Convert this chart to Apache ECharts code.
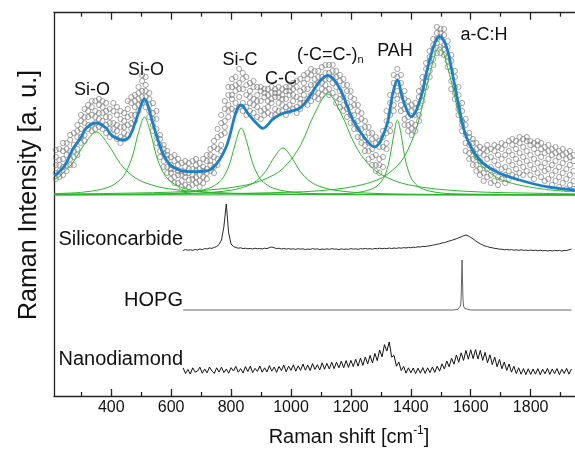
<!DOCTYPE html>
<html><head><meta charset="utf-8">
<script src="https://cdn.jsdelivr.net/npm/echarts@6/dist/echarts.min.js"></script>
<style>html,body{margin:0;padding:0;background:#fff}#c{width:575px;height:471px}</style>
</head><body><div id="c"></div>
<script>
// ---------- axis ----------
const X_MIN = 209, X_MAX = 1948;               // Raman shift range (cm-1)
const MAJOR_TICKS = [400, 600, 800, 1000, 1200, 1400, 1600, 1800];
const MINOR_TICKS = [300, 500, 700, 900, 1100, 1300, 1500, 1700, 1900];
const Y_MAX = 383.3;                            // arbitrary units

// vertical offsets of the stacked spectra (a.u.)
const FIT_OFFSET = 201, SIC_OFFSET = 145, HOPG_OFFSET = 86, ND_OFFSET = 23;

// ---------- fitted sample: measured points [x, y1..y5] ----------
const SCATTER_ROWS = [
[215,22,38,16,30,45],[227,35,24,46,18,30],[239,28,44,20,36,52],[251,40,30,52,24,46],[263,36,55,44,30,60],[275,50,38,62,44,30],
[287,58,46,70,40,64],[299,66,52,80,74,58],[311,72,60,86,54,78],[323,78,66,90,84,70],[335,70,88,80,64,94],[347,84,72,94,66,78],
[359,76,90,68,96,82],[371,88,74,82,66,94],[383,70,84,92,62,78],[395,78,66,86,58,72],[407,72,60,84,92,66],[419,64,80,70,56,88],
[431,76,58,68,84,52],[443,62,74,82,56,68],[455,70,86,60,78,94],[467,80,92,72,66,98],[479,88,100,80,74,94],[491,96,84,108,102,90],
[503,104,92,114,120,98],[515,98,110,88,118,104],[527,90,78,102,96,84],[539,82,70,92,64,76],[551,66,58,76,84,52],[563,50,44,60,38,56],
[575,42,34,50,28,46],[587,36,28,44,22,40],[599,30,22,38,16,26],[611,26,18,34,12,40],[623,20,30,12,36,24],[635,24,14,32,8,20],
[647,18,28,10,34,22],[659,22,32,15,8,26],[671,16,26,34,10,20],[683,24,12,30,36,18],[695,20,32,14,26,8],[707,28,18,36,12,24],
[719,22,34,26,16,40],[731,30,40,24,46,34],[743,38,28,48,54,22],[755,46,36,58,30,66],[767,60,50,72,44,80],[779,74,62,86,94,68],
[791,90,78,100,108,84],[803,96,108,86,116,100],[815,104,92,118,84,110],[827,98,112,126,88,106],[839,106,92,116,84,122],[851,100,88,110,80,118],
[863,92,104,84,112,98],[875,96,82,108,114,90],[887,88,100,78,108,94],[899,94,104,84,76,108],[911,86,98,106,80,102],[923,100,88,106,94,82],
[935,92,102,80,108,96],[947,98,86,106,80,102],[959,102,92,108,84,98],[971,90,100,84,106,96],[983,96,104,88,80,108],[995,100,90,108,84,104],
[1007,94,106,86,112,100],[1019,98,88,108,82,114],[1031,92,104,96,116,86],[1043,100,112,92,120,106],[1055,106,96,116,90,122],[1067,110,100,120,94,126],
[1079,104,116,98,124,110],[1091,112,102,124,96,118],[1103,118,106,128,100,112],[1115,110,122,104,130,116],[1127,116,106,130,100,122],[1139,112,124,102,130,118],
[1151,108,118,98,124,92],[1163,104,96,114,88,120],[1175,98,110,90,116,84],[1187,92,104,86,110,78],[1199,88,98,80,104,72],[1211,80,90,72,96,66],
[1223,74,84,66,90,58],[1235,66,76,58,82,52],[1247,58,68,50,74,44],[1259,52,62,44,68,36],[1271,46,56,38,62,30],[1283,40,52,30,58,24],
[1295,36,48,22,54,30],[1307,48,38,58,28,64],[1319,62,52,74,84,46],[1331,80,92,70,100,64],[1343,100,112,90,120,84],[1355,118,104,126,96,112],
[1367,100,112,90,84,120],[1379,86,96,76,104,70],[1391,78,88,70,94,64],[1403,72,84,66,90,60],[1415,80,70,92,64,86],[1427,88,98,80,104,74],
[1439,100,112,94,118,106],[1451,118,126,108,132,114],[1463,134,124,144,118,138],[1475,146,136,156,130,150],[1487,152,162,142,168,156],[1499,158,148,166,142,162],
[1511,150,160,140,166,146],[1523,138,148,128,154,134],[1535,124,134,114,140,106],[1547,108,118,96,124,102],[1559,90,100,80,108,86],[1571,74,84,64,92,70],
[1583,60,70,52,76,44],[1595,50,42,58,36,62],[1607,44,36,52,30,56],[1619,38,46,30,52,24],[1631,34,42,26,48,20],[1643,30,40,22,46,14],
[1655,36,26,44,18,50],[1667,28,38,20,46,12],[1679,34,24,44,14,50],[1691,30,40,18,48,10],[1703,36,26,46,16,52],[1715,28,40,20,50,12],
[1727,34,44,24,54,16],[1739,40,30,50,20,56],[1751,36,46,26,54,18],[1763,42,32,52,22,58],[1775,38,48,28,56,20],[1787,44,34,54,24,58],
[1799,40,30,50,20,54],[1811,36,46,26,52,16],[1823,42,32,50,22,54],[1835,38,28,46,18,52],[1847,32,42,24,48,14],[1859,36,26,44,16,50],
[1871,30,40,20,46,10],[1883,34,24,42,14,48],[1895,28,38,18,44,8],[1907,32,22,40,12,46],[1919,26,36,16,42,6],[1931,30,20,38,10,44],
[1943,24,34,14,40,6]
];

// cumulative fit (blue)
const FIT_X = [210.7,244,272,300,316,350,383,400,439,460,483,500,511,522,533,556,578,606,661,700,739,784,817,834,856,884,906,940,974,1029,1062,1095,1123,1162,1207,1251,1279,1318,1340,1355,1374,1402,1431,1457,1480,1496,1519,1541,1563,1585,1630,1686,1763,1852,1948];
const FIT_Y = [19.3,29,46,58,66.7,72,67,60,55,58,75,90,96,90,78,55,38,28,23.3,23.5,27,48.3,83.3,90,81.7,72,66.7,76,81.7,86.7,98.3,113.3,119.5,107,75,55,48,68.3,101.7,115,95,78.3,95,128.3,151.7,158.3,148.3,118.3,85,58.3,35,23.3,15,8.3,5];

// fit components (green)
const SIO1_X = [210,230,270,310,350,390,430,470,510,590,750,990,1948];
const SIO1_Y = [15.5,19.4,31.5,50.4,63,50.4,31.5,19.4,12.6,6.3,2.4,1.0,0.2];
const SIO2_X = [210,311,391,431,451,471,491,511,531,551,571,591,631,711,831,1100,1948];
const SIO2_Y = [1.4,3.0,7.8,15.6,24,39,62.4,78,62.4,39,24,15.6,7.8,3.0,1.2,0.36,0.05];
const SIC_X = [210,546,654,726,762,780,798,816,834,852,870,888,906,942,1014,1122,1500,1948];
const SIC_Y = [0.2,1.0,2.6,6.7,13.4,20.6,33.5,53.6,67,53.6,33.5,20.6,13.4,6.7,2.6,1.0,0.2,0.1];
const CC_X = [210,509,683,799,857,886,915,944,973,1002,1031,1060,1089,1147,1263,1437,1948];
const CC_Y = [0.27,0.72,1.8,4.7,9.4,14.5,23.5,37.6,47,37.6,23.5,14.5,9.4,4.7,1.8,0.72,0.17];
const CEC_X = [210,403,673,853,943,988,1033,1078,1123,1168,1213,1258,1303,1393,1573,1843,1948];
const CEC_Y = [1.0,1.6,3.9,10.1,20.2,31.1,50.5,80.8,101,80.8,50.5,31.1,20.2,10.1,3.9,1.6,1.2];
const PAH_X = [210,800,1155,1230,1280,1305,1318,1330,1343,1355,1368,1380,1393,1405,1430,1480,1555,1948];
const PAH_Y = [0.04,0.15,1.15,2.9,7.5,15,23.1,37.5,60,75,60,37.5,23.1,15,7.5,2.9,1.15,0.13];
const ACH_X = [210,600,936,1146,1286,1356,1391,1426,1461,1496,1531,1566,1601,1636,1706,1846,1948];
const ACH_Y = [0.44,0.9,2.3,5.7,14.8,29.6,45.6,74,118.4,148,118.4,74,45.6,29.6,14.8,5.7,3.5];

// reference spectra
const SPEC_X = [640,648,656,664,672,680,688,696,704,712,720,728,736,744,752,760,768,776,784,792,800,808,816,824,832,840,848,856,864,872,880,888,896,904,912,920,928,936,944,952,960,968,976,984,992,1000,1008,1016,1024,1032,1040,1048,1056,1064,1072,1080,1088,1096,1104,1112,1120,1128,1136,1144,1152,1160,1168,1176,1184,1192,1200,1208,1216,1224,1232,1240,1248,1256,1264,1272,1280,1288,1296,1304,1312,1320,1328,1336,1344,1352,1360,1368,1376,1384,1392,1400,1408,1416,1424,1432,1440,1448,1456,1464,1472,1480,1488,1496,1504,1512,1520,1528,1536,1544,1552,1560,1568,1576,1584,1592,1600,1608,1616,1624,1632,1640,1648,1656,1664,1672,1680,1688,1696,1704,1712,1720,1728,1736,1744,1752,1760,1768,1776,1784,1792,1800,1808,1816,1824,1832,1840,1848,1856,1864,1872,1880,1888,1896,1904,1912,1920,1928,1936];
const SICARB_Y = [0.5,1.5,0.8,1.2,0.6,1.6,1.0,2.0,1.4,2.4, 2.0,3.0,2.6,3.6,4.5,6.5,11,24,47,18, 7,4.5,3.5,2.8,3.2,2.4,2.8,2.2,2.6,2.0,
 2.8,2.2,2.6,2.0,2.8,2.4,3.4,4.0,3.2,2.4, 2.8,2.0,2.6,1.8,2.4,1.8,2.2,1.6,2.4,1.8, 2.2,1.4,2.0,1.6,2.4,1.8,2.2,1.4,2.0,1.6,
 2.2,1.6,2.4,1.8,2.0,1.4,2.2,1.6,2.0,1.6, 2.4,1.8,2.2,1.6,2.4,2.0,2.6,2.0,2.4,1.8, 2.6,2.2,2.8,2.2,2.6,2.4,3.0,2.4,3.0,2.6,
 3.2,2.8,3.4,3.0,3.6,3.2,3.8,3.6,4.2,4.0, 4.6,4.4,5.0,5.2,5.8,6.2,6.8,7.2,8.0,8.4, 9.2,10,10.6,11.4,12.2,13.2,14.2,15.2,16,15,
 13.6,12,10.2,8.6,7.2,6.0,5.0,4.4,3.6,3.2, 2.6,2.4,1.8,1.8,1.2,1.6,1.0,1.4,0.8,1.2, 0.6,1.2,0.6,1.0,0.4,1.0,0.4,0.8,0.2,0.8,
 0.2,0.6,0.0,0.6,0.0,0.6,0.2,0.6,0.0,0.6, 0.4,1.2,2.0];
const ND_Y = [5.0,-0.5,3.5,-1.0,5.2,0.8,2.0,5.8,-0.2,4.0, 0.2,6.0,2.0,-0.4,5.2,1.0,5.8,0.4,4.0,-0.2, 5.4,2.0,6.6,0.8,4.4,0.0,6.4,1.4,6.8,0.4,
 4.6,1.6,7.0,0.8,5.2,1.0,7.4,1.8,6.0,0.6, 6.6,2.4,8.0,1.2,6.8,2.6,8.2,1.8,7.2,2.6, 9.0,2.8,7.8,2.4,9.4,3.6,8.2,3.0,10.2,3.8,
 9.6,4.0,10.8,4.4,10.8,5.2,11.8,5.4,12.4,5.6, 12.6,6.4,13.8,6.8,15.0,7.6,16.0,9.0,17.6,10.0, 19.6,12.4,23.0,16.2,28.4,22.0,31.0,16.0,17.6,6.8,
 11.0,2.4,6.6,-0.2,5.2,0.2,5.0,-0.6,4.8,-0.2, 5.4,-0.4,5.2,0.4,6.0,0.6,6.8,1.8,9.2,4.0, 12.0,6.2,14.8,8.8,18.0,10.8,20.2,12.6,22.6,13.8,
 23.2,14.4,23.4,14.0,22.6,12.6,20.6,10.2,18.2,8.4, 16.0,6.2,13.6,4.2,11.0,2.6,9.0,0.8,6.8,-0.6, 5.2,-1.2,4.4,-1.6,4.2,-1.4,4.0,-1.2,4.4,-1.8,
 3.8,-0.8,4.6,-1.4,4.0,-0.6,4.4,-1.6,3.8,-0.4, 4.6,-1.2,4.0];
const HOPG_X = [640,1540,1556,1562,1566,1568,1570,1571,1572,1574,1576,1580,1586,1600,1936];
const HOPG_Y = [0,0,0.5,1.5,4,12,38,50,38,12,4,1.5,0.5,0,0];

// ---------- build ----------
const FONT = '"Liberation Sans", Arial, Helvetica, sans-serif';
const pairs = (xs, ys, off) => xs.map((x, i) => [x, ys[i] + off]);
const scatterData = [];
SCATTER_ROWS.forEach(r => { for (let k = 1; k < r.length; k++) scatterData.push([r[0], r[k] + FIT_OFFSET]); });

const GREEN = '#2cb52c';
const comps = [[SIO1_X,SIO1_Y],[SIO2_X,SIO2_Y],[SIC_X,SIC_Y],[CC_X,CC_Y],[CEC_X,CEC_Y],[PAH_X,PAH_Y],[ACH_X,ACH_Y]];
const series = [];
series.push({type:'scatter', xAxisIndex:0, yAxisIndex:0, data:scatterData, symbol:'circle', symbolSize:5.2,
  itemStyle:{color:'rgba(0,0,0,0)', borderColor:'#6a6a6a', borderWidth:0.75}, silent:true, z:2});
comps.forEach(c => series.push({type:'line', xAxisIndex:0, yAxisIndex:0, data:pairs(c[0], c[1], FIT_OFFSET),
  showSymbol:false, smooth:0.35, lineStyle:{color:GREEN, width:1}, silent:true, z:3}));
series.push({type:'line', xAxisIndex:0, yAxisIndex:0, data:pairs(FIT_X, FIT_Y, FIT_OFFSET), showSymbol:false,
  smooth:0.35, lineStyle:{color:'#1c80c9', width:2.8}, silent:true, z:4});
series.push({type:'line', xAxisIndex:0, yAxisIndex:0, data:pairs(SPEC_X, SICARB_Y, SIC_OFFSET), showSymbol:false,
  lineStyle:{color:'#111', width:0.9}, silent:true, z:3});
series.push({type:'line', xAxisIndex:0, yAxisIndex:0, data:pairs(HOPG_X, HOPG_Y, HOPG_OFFSET), showSymbol:false,
  lineStyle:{color:'#555', width:0.9}, silent:true, z:3});
series.push({type:'line', xAxisIndex:0, yAxisIndex:0, data:pairs(SPEC_X, ND_Y, ND_OFFSET), showSymbol:false,
  lineStyle:{color:'#111', width:1}, silent:true, z:3});

const AX = {color:'#222', width:1.3};
const baseX = {type:'value', min:X_MIN, max:X_MAX, splitLine:{show:false}};
const gridBox = {left:54, right:0, top:12.7, bottom:75, containLabel:false};

const txt = (text, x, y, size, align) => ({type:'text', x, y, silent:true,
  style:{text, fontSize:size, fontFamily:FONT, fill:'#111', align:align||'center', verticalAlign:'middle'}});

const option = {
  animation:false,
  backgroundColor:'#fff',
  grid:[Object.assign({}, gridBox), Object.assign({}, gridBox)],
  xAxis:[
    Object.assign({}, baseX, {gridIndex:0, position:'bottom',
      axisLine:{show:true, onZero:false, lineStyle:AX},
      axisTick:{show:true, inside:true, length:7, customValues:MAJOR_TICKS, lineStyle:AX},
      axisLabel:{show:true, customValues:MAJOR_TICKS, formatter:v => String(v), fontSize:16, fontFamily:FONT, color:'#111', margin:4}}),
    Object.assign({}, baseX, {gridIndex:0, position:'top',
      axisLine:{show:true, onZero:false, lineStyle:AX},
      axisTick:{show:true, inside:true, length:7, customValues:MAJOR_TICKS, lineStyle:AX},
      axisLabel:{show:false}}),
    Object.assign({}, baseX, {gridIndex:1, position:'bottom',
      axisLine:{show:false},
      axisTick:{show:true, inside:true, length:4, customValues:MINOR_TICKS, lineStyle:AX},
      axisLabel:{show:false}}),
    Object.assign({}, baseX, {gridIndex:1, position:'top',
      axisLine:{show:false},
      axisTick:{show:true, inside:true, length:4, customValues:MINOR_TICKS, lineStyle:AX},
      axisLabel:{show:false}})
  ],
  yAxis:[
    {type:'value', gridIndex:0, min:0, max:Y_MAX, axisLine:{show:true, onZero:false, lineStyle:AX},
     axisTick:{show:false}, axisLabel:{show:false}, splitLine:{show:false}},
    {type:'value', gridIndex:1, min:0, max:Y_MAX, axisLine:{show:false},
     axisTick:{show:false}, axisLabel:{show:false}, splitLine:{show:false}}
  ],
  series,
  graphic:[
    txt('Si-O', 92, 90, 18), txt('Si-O', 146, 70, 18), txt('Si-C', 240, 60, 18), txt('C-C', 281, 79, 18),
    {type:'text', x:297, y:55, silent:true, style:{text:'{m|(-C=C-)}{s|n}', align:'left', verticalAlign:'middle',
      rich:{m:{fontSize:18, fontFamily:FONT, fill:'#111', lineHeight:20},
            s:{fontSize:11, fontFamily:FONT, fill:'#111', lineHeight:11, verticalAlign:'bottom'}}}},
    txt('PAH', 395, 51, 18), txt('a-C:H', 484, 35, 18),
    txt('Siliconcarbide', 183, 239, 20, 'right'), txt('HOPG', 183, 300, 20, 'right'), txt('Nanodiamond', 183, 359, 20, 'right'),
    {type:'text', x:29, y:195, rotation:Math.PI/2, silent:true,
      style:{text:'Raman Intensity [a. u.]', fontSize:25, fontFamily:FONT, fill:'#111', align:'center', verticalAlign:'middle'}},
    {type:'text', x:349, y:437, silent:true, style:{text:'{t|Raman shift [cm}{s|-1}{t|]}', align:'center', verticalAlign:'middle',
      rich:{t:{fontSize:20, fontFamily:FONT, fill:'#111', lineHeight:24},
            s:{fontSize:12, fontFamily:FONT, fill:'#111', lineHeight:12, verticalAlign:'top'}}}}
  ]
};
echarts.init(document.getElementById('c'), null, {renderer:'canvas'}).setOption(option);
</script></body></html>
